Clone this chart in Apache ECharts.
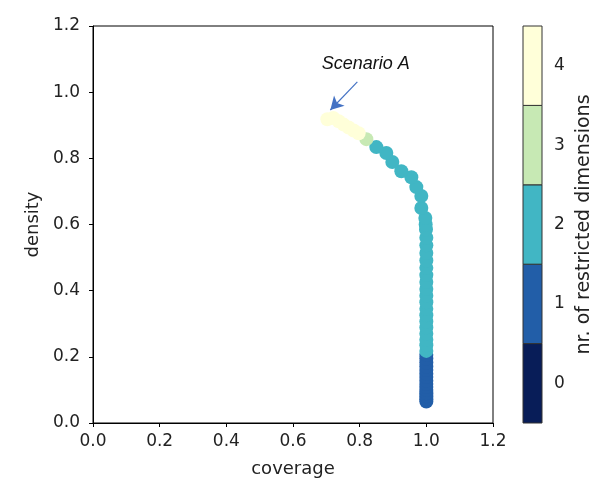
<!DOCTYPE html>
<html>
<head>
<meta charset="utf-8">
<script src="https://cdn.jsdelivr.net/npm/echarts@6/dist/echarts.min.js"></script>
<style>html,body{margin:0;padding:0;background:#fff}#c{width:595px;height:493px}</style>
</head>
<body>
<div id="c"></div>
<script>
// ---- data ----
const coverage = [
  1.0,1.0,1.0,1.0,1.0,1.0,1.0,1.0,1.0,1.0,1.0,1.0,1.0,1.0,1.0,
  1.0,1.0,1.0,1.0,1.0,1.0,1.0,1.0,1.0,1.0,1.0,1.0,1.0,1.0,1.0,1.0,1.0,1.0,0.999,0.998,
  0.997,0.985,0.985,0.97,0.955,0.925,0.898,0.88,0.85,
  0.82,
  0.797,0.782,0.767,0.752,0.737,0.721,0.703
];
const density = [
  0.065,0.072,0.081,0.09,0.1,0.109,0.118,0.128,0.139,0.149,0.16,0.171,0.183,0.195,0.206,
  0.218,0.235,0.252,0.27,0.289,0.307,0.326,0.345,0.365,0.385,0.405,0.426,0.447,0.469,0.491,0.514,0.537,0.56,0.585,0.6,
  0.62,0.65,0.686,0.713,0.743,0.761,0.789,0.816,0.834,
  0.858,
  0.876,0.884,0.893,0.902,0.912,0.922,0.918
];
const restrictedDims = [
  1,1,1,1,1,1,1,1,1,1,1,1,1,1,1,
  2,2,2,2,2,2,2,2,2,2,2,2,2,2,2,2,2,2,2,2,
  2,2,2,2,2,2,2,2,2,
  3,
  4,4,4,4,4,4,4
];
const dimLevels = [0,1,2,3,4];
const dimColors = ['#081d58','#225ea8','#41b6c4','#c7e9b4','#ffffd9'];
const annotationText = 'Scenario A';
const arrowFrom = [0.793,1.031];
const arrowTo = [0.712,0.946];
const annotationAt = [0.818,1.085];

// ---- chart ----
const FONT = 'DejaVu Sans';
const chart = echarts.init(document.getElementById('c'), null, {renderer:'canvas'});
const points = coverage.map((x,i)=>({value:[x,density[i],restrictedDims[i]], itemStyle:{color:dimColors[restrictedDims[i]]}}));
const axisCommon = {
  type:'value', min:0, max:1.2, interval:0.2,
  axisLine:{show:true, onZero:false, lineStyle:{color:'#000', width:1}},
  axisTick:{show:true, inside:false, length:4, lineStyle:{color:'#000'}},
  splitLine:{show:false},
  axisLabel:{color:'#222', fontFamily:FONT, fontSize:17, formatter:v=>v.toFixed(1)},
  nameTextStyle:{color:'#222', fontFamily:FONT, fontSize:18}
};
const option = {
  animation:false,
  grid:[
    {left:93, top:26, width:400, height:397, show:true, borderColor:'#000', borderWidth:1, containLabel:false},
    {left:523, top:26, width:20, height:397, show:false, containLabel:false}
  ],
  xAxis:[
    Object.assign({}, axisCommon, {gridIndex:0, name:'coverage', nameLocation:'middle', nameGap:37, axisLabel:Object.assign({}, axisCommon.axisLabel, {margin:10})}),
    {type:'value', gridIndex:1, min:0, max:1, show:false}
  ],
  yAxis:[
    Object.assign({}, axisCommon, {gridIndex:0, name:'density', nameLocation:'middle', nameGap:50, axisLabel:Object.assign({}, axisCommon.axisLabel, {margin:13})}),
    {type:'value', gridIndex:1, min:-0.5, max:4.5, position:'right',
     name:'nr. of restricted dimensions', nameLocation:'middle', nameRotate:90, nameGap:33,
     nameTextStyle:{color:'#222', fontFamily:FONT, fontSize:19},
     axisLine:{show:false},
     axisTick:{show:true, length:4, lineStyle:{color:'#000'}, customValues:dimLevels},
     axisLabel:{show:true, color:'#222', fontFamily:FONT, fontSize:17, margin:12, customValues:dimLevels},
     splitLine:{show:false}}
  ],
  series:[
    {type:'scatter', xAxisIndex:0, yAxisIndex:0, symbolSize:14, data:points, z:3,
     itemStyle:{opacity:1}},
    {type:'scatter', xAxisIndex:0, yAxisIndex:0, data:[], z:4,
     markLine:{silent:true, symbol:['none','arrow'], symbolSize:[11,13], animation:false,
       lineStyle:{color:'#4472c4', width:1.2, type:'solid'}, label:{show:false},
       data:[[{coord:arrowFrom},{coord:arrowTo}]]}},
    {type:'custom', xAxisIndex:1, yAxisIndex:1, data:dimLevels.map(l=>[l]),
     renderItem:function(params, api){
       const lv = api.value(0);
       const p0 = api.coord([0, lv-0.5]);
       const p1 = api.coord([1, lv+0.5]);
       return {type:'rect', shape:{x:p0[0], y:p1[1], width:p1[0]-p0[0], height:p0[1]-p1[1]},
               style:{fill:dimColors[lv], stroke:'#333', lineWidth:1}};
     }}
  ]
};
chart.setOption(option);
const tp = chart.convertToPixel({gridIndex:0}, annotationAt);
chart.setOption({graphic:[{type:'text', x:tp[0], y:tp[1], style:{text:annotationText, fontFamily:'Liberation Sans', fontStyle:'italic', fontSize:18, fill:'#111', align:'center', verticalAlign:'middle'}}]});
</script>
</body>
</html>
